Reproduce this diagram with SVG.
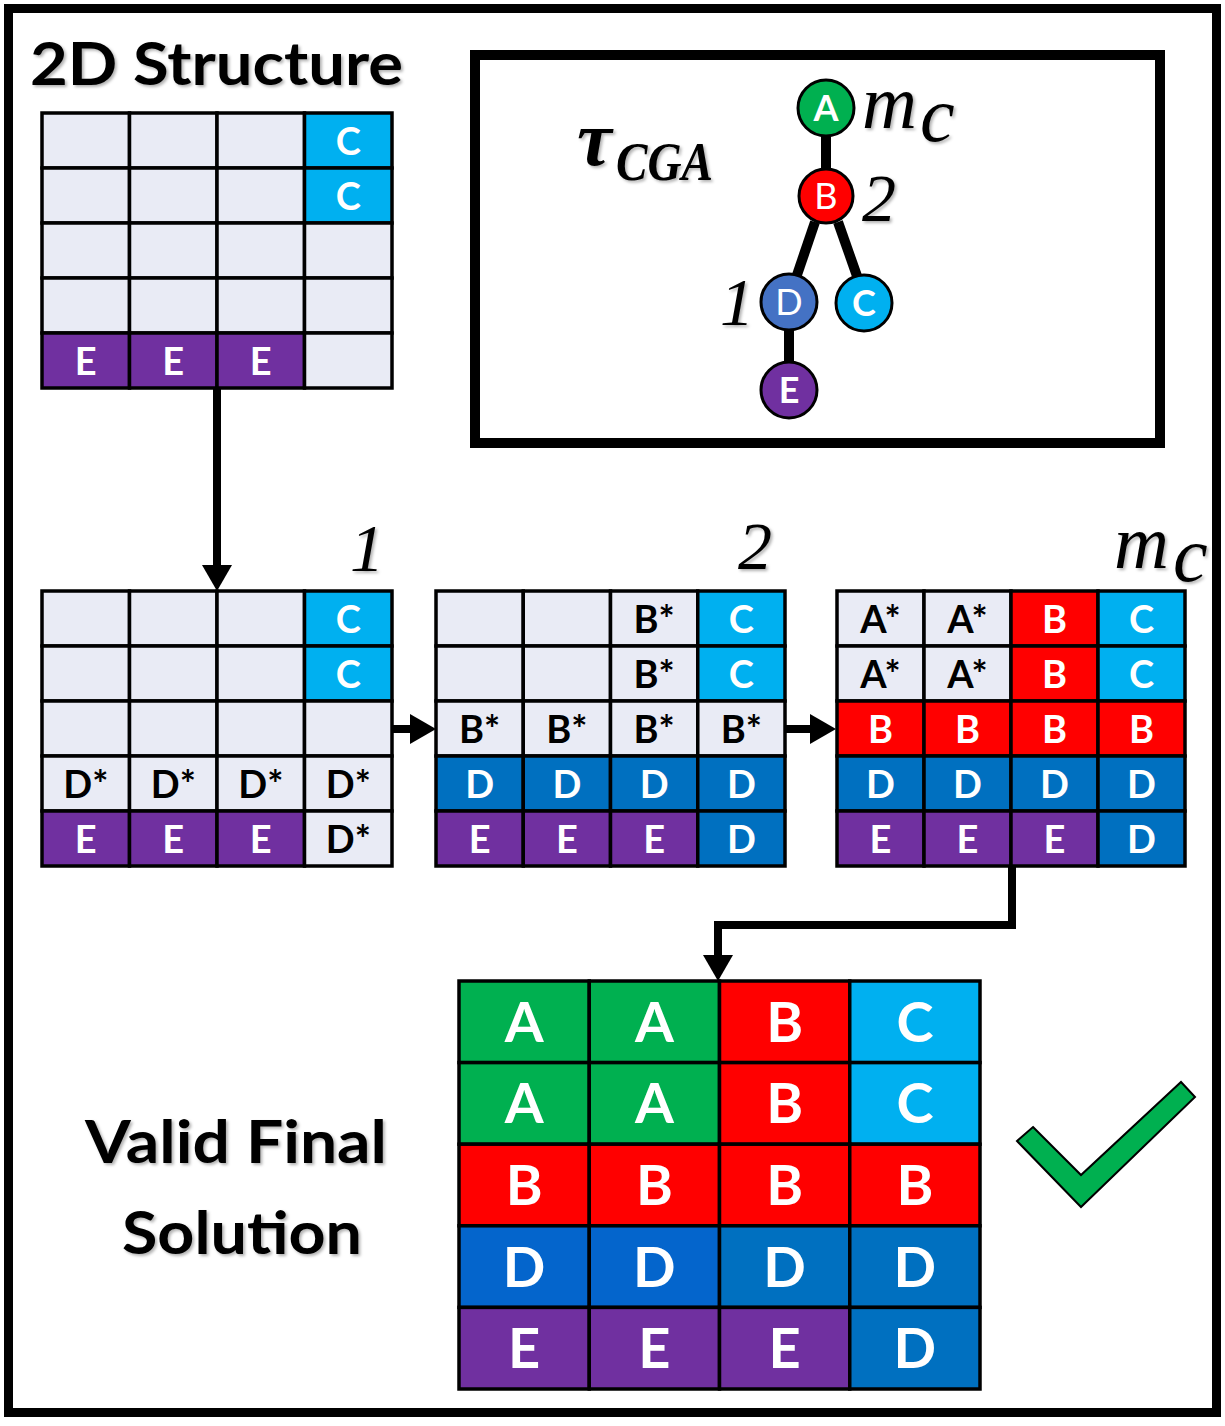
<svg xmlns="http://www.w3.org/2000/svg" width="1225" height="1426" viewBox="0 0 1225 1426">
  <style>
    .frame { fill: none; stroke: #000; }
    .cell { stroke: #000; stroke-width: 3.5; }
    .L { fill: #E9EBF5; }
    .A { fill: #00B050; }
    .B { fill: #FF0000; }
    .C { fill: #00B0F0; }
    .D { fill: #0070C0; }
    .D2 { fill: #0465CC; }
    .E { fill: #7030A0; }
    .sw { font-family: Lato, "Open Sans", sans-serif; font-weight: 700; font-size: 38px; fill: #fff; text-anchor: middle; }
    .sk { font-family: Lato, "Open Sans", sans-serif; font-weight: 700; font-size: 38px; fill: #000; text-anchor: middle; }
    .bw { font-family: Lato, "Open Sans", sans-serif; font-weight: 700; font-size: 56px; fill: #fff; text-anchor: middle; }
    .title { font-family: Lato, "Open Sans", sans-serif; font-weight: 700; font-size: 60px; fill: #000; }
    .math { font-family: "Liberation Serif", "DejaVu Serif", serif; font-style: italic; fill: #000; }
    .node { stroke: #000; stroke-width: 3; }
    .nl { font-family: Lato, "Open Sans", sans-serif; font-size: 36px; fill: #fff; text-anchor: middle; }
    .edge { stroke: #000; stroke-width: 10; stroke-linecap: butt; }
    .conn { fill: none; stroke: #000; stroke-width: 8; }
  </style>
  <defs>
    <filter id="soft" x="-10%" y="-20%" width="130%" height="150%">
      <feDropShadow dx="2" dy="2" stdDeviation="1.6" flood-color="#000" flood-opacity="0.3"/>
    </filter>
    <marker id="head" markerUnits="userSpaceOnUse" markerWidth="26" markerHeight="32" refX="0" refY="16" orient="auto">
      <path d="M0,1 L26,16 L0,31 z" fill="#000"/>
    </marker>
  </defs>

  <rect width="1225" height="1426" fill="#fff"/>
  <!-- outer frame -->
  <rect class="frame" x="8.5" y="8.5" width="1208" height="1404" stroke-width="9"/>

  <!-- heading -->
  <text class="title" x="30" y="85" textLength="373" lengthAdjust="spacingAndGlyphs" filter="url(#soft)">2D Structure</text>

  <!-- input structure grid -->
  <g id="grid-input">
    <rect class="cell L" x="42" y="113" width="87.5" height="55"/>
    <rect class="cell L" x="129.5" y="113" width="87.5" height="55"/>
    <rect class="cell L" x="217" y="113" width="87.5" height="55"/>
    <rect class="cell C" x="304.5" y="113" width="87.5" height="55"/>
    <rect class="cell L" x="42" y="168" width="87.5" height="55"/>
    <rect class="cell L" x="129.5" y="168" width="87.5" height="55"/>
    <rect class="cell L" x="217" y="168" width="87.5" height="55"/>
    <rect class="cell C" x="304.5" y="168" width="87.5" height="55"/>
    <rect class="cell L" x="42" y="223" width="87.5" height="55"/>
    <rect class="cell L" x="129.5" y="223" width="87.5" height="55"/>
    <rect class="cell L" x="217" y="223" width="87.5" height="55"/>
    <rect class="cell L" x="304.5" y="223" width="87.5" height="55"/>
    <rect class="cell L" x="42" y="278" width="87.5" height="55"/>
    <rect class="cell L" x="129.5" y="278" width="87.5" height="55"/>
    <rect class="cell L" x="217" y="278" width="87.5" height="55"/>
    <rect class="cell L" x="304.5" y="278" width="87.5" height="55"/>
    <rect class="cell E" x="42" y="333" width="87.5" height="55"/>
    <rect class="cell E" x="129.5" y="333" width="87.5" height="55"/>
    <rect class="cell E" x="217" y="333" width="87.5" height="55"/>
    <rect class="cell L" x="304.5" y="333" width="87.5" height="55"/>
    <text class="sw" x="348.3" y="154.5">C</text>
    <text class="sw" x="348.3" y="209.5">C</text>
    <text class="sw" x="85.8" y="374.5">E</text>
    <text class="sw" x="173.3" y="374.5">E</text>
    <text class="sw" x="260.8" y="374.5">E</text>
  </g>

  <!-- tree box -->
  <g id="tree-box">
    <rect class="frame" x="475" y="55" width="685" height="388" stroke-width="10"/>
    <text class="math" x="577" y="165" font-size="78" font-weight="700" filter="url(#soft)">τ</text>
    <text class="math" x="616" y="180" font-size="54" font-weight="700" textLength="97" lengthAdjust="spacingAndGlyphs" filter="url(#soft)">CGA</text>
  </g>
  <g id="tree-edges">
    <line class="edge" x1="826" y1="136" x2="826" y2="170"/>
    <line class="edge" x1="815" y1="222" x2="797" y2="275"/>
    <line class="edge" x1="838" y1="222" x2="857" y2="276"/>
    <line class="edge" x1="789" y1="330" x2="789" y2="363"/>
  </g>
  <g id="node-A">
    <circle class="node A" cx="826" cy="108" r="28"/>
    <text class="nl" x="826" y="121" font-weight="700">A</text>
    <text class="math" x="862" y="128" font-size="76" filter="url(#soft)">m</text>
    <text class="math" x="920" y="141" font-size="78" filter="url(#soft)">c</text>
  </g>
  <g id="node-B">
    <circle class="node B" cx="826" cy="196" r="27"/>
    <text class="nl" x="826" y="209">B</text>
    <text class="math" x="862" y="221" font-size="68" filter="url(#soft)">2</text>
  </g>
  <g id="node-D">
    <circle class="node" cx="789" cy="302" r="28" fill="#4472C4"/>
    <text class="nl" x="789" y="315">D</text>
    <text class="math" x="720" y="325" font-size="68" filter="url(#soft)">1</text>
  </g>
  <g id="node-C">
    <circle class="node C" cx="864" cy="303" r="28"/>
    <text class="nl" x="864" y="316" font-weight="700">C</text>
  </g>
  <g id="node-E">
    <circle class="node E" cx="789" cy="390" r="28"/>
    <text class="nl" x="789" y="403" font-weight="700">E</text>
  </g>

  <!-- step labels -->
  <text class="math" x="350" y="571" font-size="68" filter="url(#soft)">1</text>
  <text class="math" x="738" y="569" font-size="68" filter="url(#soft)">2</text>
  <text class="math" x="1114" y="568" font-size="76" filter="url(#soft)">m</text>
  <text class="math" x="1173" y="581" font-size="78" filter="url(#soft)">c</text>

  <!-- step 1 grid -->
  <g id="grid-step1">
    <rect class="cell L" x="42" y="591" width="87.5" height="55"/>
    <rect class="cell L" x="129.5" y="591" width="87.5" height="55"/>
    <rect class="cell L" x="217" y="591" width="87.5" height="55"/>
    <rect class="cell C" x="304.5" y="591" width="87.5" height="55"/>
    <rect class="cell L" x="42" y="646" width="87.5" height="55"/>
    <rect class="cell L" x="129.5" y="646" width="87.5" height="55"/>
    <rect class="cell L" x="217" y="646" width="87.5" height="55"/>
    <rect class="cell C" x="304.5" y="646" width="87.5" height="55"/>
    <rect class="cell L" x="42" y="701" width="87.5" height="55"/>
    <rect class="cell L" x="129.5" y="701" width="87.5" height="55"/>
    <rect class="cell L" x="217" y="701" width="87.5" height="55"/>
    <rect class="cell L" x="304.5" y="701" width="87.5" height="55"/>
    <rect class="cell L" x="42" y="756" width="87.5" height="55"/>
    <rect class="cell L" x="129.5" y="756" width="87.5" height="55"/>
    <rect class="cell L" x="217" y="756" width="87.5" height="55"/>
    <rect class="cell L" x="304.5" y="756" width="87.5" height="55"/>
    <rect class="cell E" x="42" y="811" width="87.5" height="55"/>
    <rect class="cell E" x="129.5" y="811" width="87.5" height="55"/>
    <rect class="cell E" x="217" y="811" width="87.5" height="55"/>
    <rect class="cell L" x="304.5" y="811" width="87.5" height="55"/>
    <text class="sw" x="348.3" y="632.5">C</text>
    <text class="sw" x="348.3" y="687.5">C</text>
    <text class="sk" x="85.8" y="797.5">D*</text>
    <text class="sk" x="173.3" y="797.5">D*</text>
    <text class="sk" x="260.8" y="797.5">D*</text>
    <text class="sk" x="348.3" y="797.5">D*</text>
    <text class="sw" x="85.8" y="852.5">E</text>
    <text class="sw" x="173.3" y="852.5">E</text>
    <text class="sw" x="260.8" y="852.5">E</text>
    <text class="sk" x="348.3" y="852.5">D*</text>
  </g>

  <!-- step 2 grid -->
  <g id="grid-step2">
    <rect class="cell L" x="436" y="591" width="87.25" height="55"/>
    <rect class="cell L" x="523.25" y="591" width="87.25" height="55"/>
    <rect class="cell L" x="610.5" y="591" width="87.25" height="55"/>
    <rect class="cell C" x="697.75" y="591" width="87.25" height="55"/>
    <rect class="cell L" x="436" y="646" width="87.25" height="55"/>
    <rect class="cell L" x="523.25" y="646" width="87.25" height="55"/>
    <rect class="cell L" x="610.5" y="646" width="87.25" height="55"/>
    <rect class="cell C" x="697.75" y="646" width="87.25" height="55"/>
    <rect class="cell L" x="436" y="701" width="87.25" height="55"/>
    <rect class="cell L" x="523.25" y="701" width="87.25" height="55"/>
    <rect class="cell L" x="610.5" y="701" width="87.25" height="55"/>
    <rect class="cell L" x="697.75" y="701" width="87.25" height="55"/>
    <rect class="cell D" x="436" y="756" width="87.25" height="55"/>
    <rect class="cell D" x="523.25" y="756" width="87.25" height="55"/>
    <rect class="cell D" x="610.5" y="756" width="87.25" height="55"/>
    <rect class="cell D" x="697.75" y="756" width="87.25" height="55"/>
    <rect class="cell E" x="436" y="811" width="87.25" height="55"/>
    <rect class="cell E" x="523.25" y="811" width="87.25" height="55"/>
    <rect class="cell E" x="610.5" y="811" width="87.25" height="55"/>
    <rect class="cell D" x="697.75" y="811" width="87.25" height="55"/>
    <text class="sk" x="654.1" y="632.5">B*</text>
    <text class="sw" x="741.4" y="632.5">C</text>
    <text class="sk" x="654.1" y="687.5">B*</text>
    <text class="sw" x="741.4" y="687.5">C</text>
    <text class="sk" x="479.6" y="742.5">B*</text>
    <text class="sk" x="566.9" y="742.5">B*</text>
    <text class="sk" x="654.1" y="742.5">B*</text>
    <text class="sk" x="741.4" y="742.5">B*</text>
    <text class="sw" x="479.6" y="797.5">D</text>
    <text class="sw" x="566.9" y="797.5">D</text>
    <text class="sw" x="654.1" y="797.5">D</text>
    <text class="sw" x="741.4" y="797.5">D</text>
    <text class="sw" x="479.6" y="852.5">E</text>
    <text class="sw" x="566.9" y="852.5">E</text>
    <text class="sw" x="654.1" y="852.5">E</text>
    <text class="sw" x="741.4" y="852.5">D</text>
  </g>

  <!-- step m_c grid -->
  <g id="grid-step-mc">
    <rect class="cell L" x="837" y="591" width="87" height="55"/>
    <rect class="cell L" x="924" y="591" width="87" height="55"/>
    <rect class="cell B" x="1011" y="591" width="87" height="55"/>
    <rect class="cell C" x="1098" y="591" width="87" height="55"/>
    <rect class="cell L" x="837" y="646" width="87" height="55"/>
    <rect class="cell L" x="924" y="646" width="87" height="55"/>
    <rect class="cell B" x="1011" y="646" width="87" height="55"/>
    <rect class="cell C" x="1098" y="646" width="87" height="55"/>
    <rect class="cell B" x="837" y="701" width="87" height="55"/>
    <rect class="cell B" x="924" y="701" width="87" height="55"/>
    <rect class="cell B" x="1011" y="701" width="87" height="55"/>
    <rect class="cell B" x="1098" y="701" width="87" height="55"/>
    <rect class="cell D" x="837" y="756" width="87" height="55"/>
    <rect class="cell D" x="924" y="756" width="87" height="55"/>
    <rect class="cell D" x="1011" y="756" width="87" height="55"/>
    <rect class="cell D" x="1098" y="756" width="87" height="55"/>
    <rect class="cell E" x="837" y="811" width="87" height="55"/>
    <rect class="cell E" x="924" y="811" width="87" height="55"/>
    <rect class="cell E" x="1011" y="811" width="87" height="55"/>
    <rect class="cell D" x="1098" y="811" width="87" height="55"/>
    <text class="sk" x="880.5" y="632.5">A*</text>
    <text class="sk" x="967.5" y="632.5">A*</text>
    <text class="sw" x="1054.5" y="632.5">B</text>
    <text class="sw" x="1141.5" y="632.5">C</text>
    <text class="sk" x="880.5" y="687.5">A*</text>
    <text class="sk" x="967.5" y="687.5">A*</text>
    <text class="sw" x="1054.5" y="687.5">B</text>
    <text class="sw" x="1141.5" y="687.5">C</text>
    <text class="sw" x="880.5" y="742.5">B</text>
    <text class="sw" x="967.5" y="742.5">B</text>
    <text class="sw" x="1054.5" y="742.5">B</text>
    <text class="sw" x="1141.5" y="742.5">B</text>
    <text class="sw" x="880.5" y="797.5">D</text>
    <text class="sw" x="967.5" y="797.5">D</text>
    <text class="sw" x="1054.5" y="797.5">D</text>
    <text class="sw" x="1141.5" y="797.5">D</text>
    <text class="sw" x="880.5" y="852.5">E</text>
    <text class="sw" x="967.5" y="852.5">E</text>
    <text class="sw" x="1054.5" y="852.5">E</text>
    <text class="sw" x="1141.5" y="852.5">D</text>
  </g>

  <!-- final solution grid -->
  <g id="grid-final">
    <rect class="cell A" x="459" y="981" width="130.25" height="81.6"/>
    <rect class="cell A" x="589.25" y="981" width="130.25" height="81.6"/>
    <rect class="cell B" x="719.5" y="981" width="130.25" height="81.6"/>
    <rect class="cell C" x="849.75" y="981" width="130.25" height="81.6"/>
    <rect class="cell A" x="459" y="1062.6" width="130.25" height="81.6"/>
    <rect class="cell A" x="589.25" y="1062.6" width="130.25" height="81.6"/>
    <rect class="cell B" x="719.5" y="1062.6" width="130.25" height="81.6"/>
    <rect class="cell C" x="849.75" y="1062.6" width="130.25" height="81.6"/>
    <rect class="cell B" x="459" y="1144.2" width="130.25" height="81.6"/>
    <rect class="cell B" x="589.25" y="1144.2" width="130.25" height="81.6"/>
    <rect class="cell B" x="719.5" y="1144.2" width="130.25" height="81.6"/>
    <rect class="cell B" x="849.75" y="1144.2" width="130.25" height="81.6"/>
    <rect class="cell D2" x="459" y="1225.8" width="130.25" height="81.6"/>
    <rect class="cell D2" x="589.25" y="1225.8" width="130.25" height="81.6"/>
    <rect class="cell D" x="719.5" y="1225.8" width="130.25" height="81.6"/>
    <rect class="cell D" x="849.75" y="1225.8" width="130.25" height="81.6"/>
    <rect class="cell E" x="459" y="1307.4" width="130.25" height="81.6"/>
    <rect class="cell E" x="589.25" y="1307.4" width="130.25" height="81.6"/>
    <rect class="cell E" x="719.5" y="1307.4" width="130.25" height="81.6"/>
    <rect class="cell D" x="849.75" y="1307.4" width="130.25" height="81.6"/>
    <text class="bw" x="524.1" y="1041.8">A</text>
    <text class="bw" x="654.4" y="1041.8">A</text>
    <text class="bw" x="784.6" y="1041.8">B</text>
    <text class="bw" x="914.9" y="1041.8">C</text>
    <text class="bw" x="524.1" y="1123.4">A</text>
    <text class="bw" x="654.4" y="1123.4">A</text>
    <text class="bw" x="784.6" y="1123.4">B</text>
    <text class="bw" x="914.9" y="1123.4">C</text>
    <text class="bw" x="524.1" y="1205">B</text>
    <text class="bw" x="654.4" y="1205">B</text>
    <text class="bw" x="784.6" y="1205">B</text>
    <text class="bw" x="914.9" y="1205">B</text>
    <text class="bw" x="524.1" y="1286.6">D</text>
    <text class="bw" x="654.4" y="1286.6">D</text>
    <text class="bw" x="784.6" y="1286.6">D</text>
    <text class="bw" x="914.9" y="1286.6">D</text>
    <text class="bw" x="524.1" y="1368.2">E</text>
    <text class="bw" x="654.4" y="1368.2">E</text>
    <text class="bw" x="784.6" y="1368.2">E</text>
    <text class="bw" x="914.9" y="1368.2">D</text>
  </g>

  <!-- final caption and check mark -->
  <g id="caption">
    <text class="title" x="85" y="1163" textLength="302" lengthAdjust="spacingAndGlyphs" filter="url(#soft)">Valid Final</text>
    <text class="title" x="122" y="1254" textLength="240" lengthAdjust="spacingAndGlyphs" filter="url(#soft)">Solution</text>
  </g>
  <g id="check">
    <polygon points="1033,1127 1081,1175 1181,1082 1195,1097 1081,1207 1017,1141" fill="#00B050" stroke="#000" stroke-width="2" stroke-linejoin="miter"/>
  </g>

  <!-- connectors -->
  <g id="connectors">
    <line class="conn" x1="217" y1="388" x2="217" y2="565" marker-end="url(#head)"/>
    <line class="conn" x1="392" y1="729" x2="410" y2="729" marker-end="url(#head)"/>
    <line class="conn" x1="786" y1="729" x2="810" y2="729" marker-end="url(#head)"/>
    <polyline class="conn" points="1012,867 1012,925 718,925 718,955" marker-end="url(#head)"/>
  </g>
</svg>
